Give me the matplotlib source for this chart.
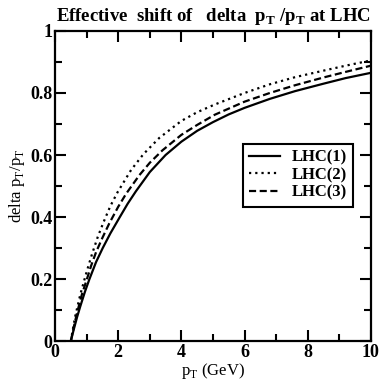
import matplotlib
matplotlib.use("Agg")
import matplotlib.pyplot as plt

plt.rcParams['font.family'] = ['Liberation Serif', 'DejaVu Serif']
plt.rcParams['mathtext.fontset'] = 'custom'
plt.rcParams['mathtext.rm'] = 'Liberation Serif'
plt.rcParams['mathtext.bf'] = 'Liberation Serif:bold'

# values
pt_1 = [0.5, 0.6, 0.7, 0.8, 0.95, 1.09, 1.3, 1.51, 1.75, 2.04, 2.3, 2.56, 3.0, 3.5, 4.0, 4.5,
        5.0, 5.5, 6.0, 6.8, 7.6, 8.5, 9.2, 10.0]
y_1 = [0.0, 0.04, 0.078, 0.112, 0.16, 0.2, 0.255, 0.30, 0.347, 0.398, 0.443, 0.483, 0.545,
       0.60, 0.643, 0.678, 0.706, 0.731, 0.752, 0.781, 0.806, 0.83, 0.848, 0.865]
pt_2 = [0.5, 0.56, 0.64, 0.8, 0.95, 1.05, 1.17, 1.35, 1.53, 1.75, 1.98, 2.41, 2.8, 3.3, 4.0,
        4.5, 5.06, 6.0, 6.8, 7.6, 8.5, 9.2, 10.0]
y_2 = [0.0, 0.035, 0.08, 0.15, 0.205, 0.24, 0.28, 0.335, 0.382, 0.435, 0.48, 0.552, 0.603,
       0.655, 0.71, 0.738, 0.763, 0.80, 0.828, 0.851, 0.872, 0.888, 0.905]
pt_3 = [0.5, 0.6, 0.7, 0.85, 1.01, 1.15, 1.3, 1.5, 1.72, 2.0, 2.25, 2.67, 3.0, 3.4, 4.0, 4.5,
        5.06, 6.0, 6.8, 7.6, 8.5, 9.2, 10.0]
y_3 = [0.0, 0.048, 0.092, 0.15, 0.2, 0.245, 0.287, 0.333, 0.38, 0.433, 0.475, 0.535, 0.575,
       0.615, 0.665, 0.697, 0.73, 0.772, 0.80, 0.825, 0.85, 0.868, 0.888]
labels = ['LHC(1)', 'LHC(2)', 'LHC(3)']
x_ticks = [0, 2, 4, 6, 8, 10]
x_tick_labels = ['0', '2', '4', '6', '8', '10']
y_ticks = [0, 0.2, 0.4, 0.6, 0.8, 1.0]
y_tick_labels = ['0', '0.2', '0.4', '0.6', '0.8', '1']

fig = plt.figure(figsize=(3.82, 3.82), dpi=100)
ax = fig.add_axes([0.144, 0.107, 0.827, 0.812])

ax.plot(pt_1, y_1, color='black', lw=1.6, ls='-', label=labels[0])
ax.plot(pt_2, y_2, color='black', lw=1.6, ls=(0, (1, 1.8)), label=labels[1])
ax.plot(pt_3, y_3, color='black', lw=1.6, ls=(0, (3.2, 1.6)), label=labels[2])

ax.set_xlim(0, 10)
ax.set_ylim(0, 1)
ax.set_xticks(x_ticks, x_tick_labels)
ax.set_yticks(y_ticks, y_tick_labels)
ax.set_xticks([1, 3, 5, 7, 9], minor=True)
ax.set_yticks([0.1, 0.3, 0.5, 0.7, 0.9], minor=True)
ax.tick_params(which='both', direction='in', top=True, right=True, width=1.5)
ax.tick_params(which='major', length=8, labelsize=13, pad=2)
ax.tick_params(which='minor', length=5)
for lab in ax.get_xticklabels() + ax.get_yticklabels():
    lab.set_fontweight('bold')
for s in ax.spines.values():
    s.set_linewidth(1.6)

ax.set_xlabel(r'p$_\mathrm{T}$ (GeV)', fontsize=12, labelpad=0)
ax.set_ylabel(r'delta p$_\mathrm{T}$/p$_\mathrm{T}$', fontsize=12, labelpad=2)
ax.set_title(r'Effective  shift of   delta  p$_\mathbf{T}$ /p$_\mathbf{T}$ at LHC',
             fontsize=13.5, fontweight='bold', pad=7)

leg = ax.legend(loc='center right', bbox_to_anchor=(0.97, 0.535), fancybox=False,
                edgecolor='black', framealpha=1, prop={'weight': 'bold', 'size': 12},
                handlelength=1.9, borderpad=0.35, labelspacing=0.1, handletextpad=0.7)
leg.get_frame().set_linewidth(1.5)

fig.savefig('out.png', dpi=100)
